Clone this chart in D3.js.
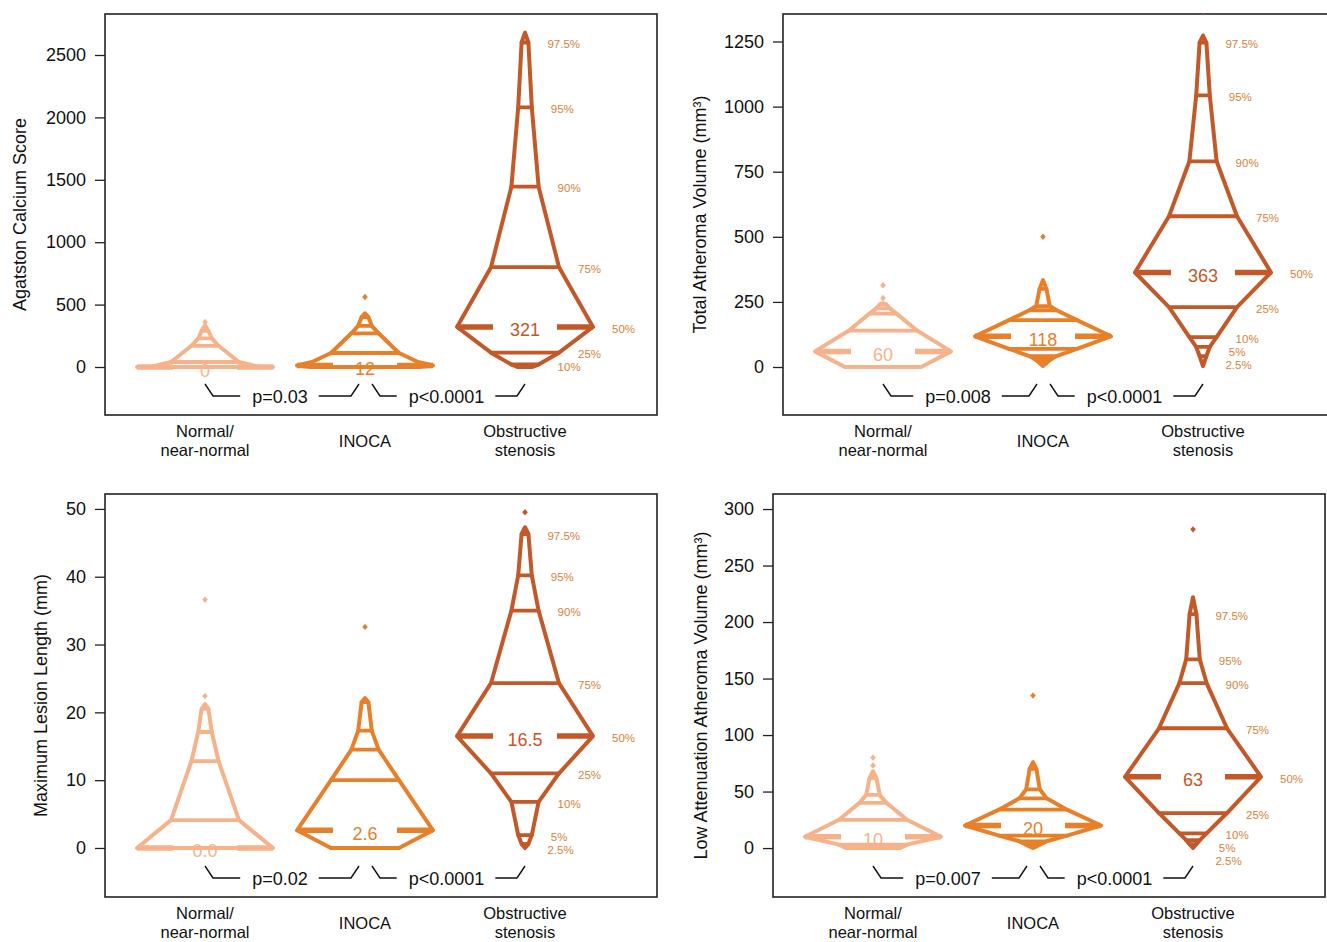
<!DOCTYPE html>
<html><head><meta charset="utf-8">
<script src="https://cdn.jsdelivr.net/npm/d3@7"></script>
<style>
body{margin:0;background:#fff}
svg{display:block}
text{font-family:"Liberation Sans",Arial,Helvetica,sans-serif}
</style>
</head><body>
<svg id="chart" width="1327" height="942"></svg>
<script>
// ---------------- DATA ----------------
const categories = [["Normal/","near-normal"],["INOCA"],["Obstructive","stenosis"]];
const pctLevels = [0, 2.5, 5, 10, 25, 50, 75, 90, 95, 97.5, 100];
const pctLabelLevels = [2.5, 5, 10, 25, 50, 75, 90, 95, 97.5];

// Panel A: Agatston Calcium Score (values at pctLevels)
const agatstonTicks = [0, 500, 1000, 1500, 2000, 2500];
const agatstonNormal = [0, 0, 0, 0, 0, 0, 40, 170, 230, 290, 335];
const agatstonNormalExtra = [[0, 60]];
const agatstonInoca = [0, 0, 0, 0, 0, 12, 112, 270, 330, 400, 430];
const agatstonInocaExtra = [[0, 40], [40, 61]];
const agatstonObstr = [0, 0, 0, 20, 115, 321, 800, 1445, 2080, 2600, 2680];
const agatstonOutliers = [[360], [561], []];
const agatstonMedianText = ["0", "12", "321"];
const agatstonP = ["p=0.03", "p<0.0001"];
const agatstonLabeled = [10, 25, 50, 75, 90, 95, 97.5];

// Panel B: Total Atheroma Volume
const tavTicks = [0, 250, 500, 750, 1000, 1250];
const tavNormal = [0, 0, 0, 0, 0, 60, 140, 205, 225, 240, 245];
const tavNormalExtra = [[0, 28]];
const tavInoca = [4, 15, 27, 42, 70, 118, 180, 218, 234, 300, 334];
const tavObstr = [3, 42, 77, 115, 230, 363, 579, 790, 1043, 1246, 1273];
const tavOutliers = [[265, 314], [500], [1362]];
const tavMedianText = ["60", "118", "363"];
const tavP = ["p=0.008", "p<0.0001"];

// Panel C: Maximum Lesion Length
const mllTicks = [0, 10, 20, 30, 40, 50];
const mllNormal = [0, 0, 0, 0, 0, 0, 4.1, 12.8, 17.1, 20.5, 21.2];
const mllInoca = [0, 0, 0, 0, 0, 2.6, 10, 14.5, 17.3, 21.5, 22.1];
const mllObstr = [0, 0.6, 1.9, 6.8, 11, 16.5, 24.3, 35, 40.2, 46.3, 47.3];
const mllOutliers = [[22.4, 36.6], [32.6], [49.5]];
const mllMedianText = ["0.0", "2.6", "16.5"];
const mllP = ["p=0.02", "p<0.0001"];

// Panel D: Low Attenuation Atheroma Volume
const laavTicks = [0, 50, 100, 150, 200, 250, 300];
const laavNormal = [0, 0, 0, 0, 3, 10, 25, 40, 47, 62, 68];
const laavNormalExtra = [[0, 20]];
const laavInoca = [0, 1.5, 3, 6, 11, 20, 34, 44, 52, 70, 76];
const laavObstr = [0, 3.5, 7, 13, 31, 63, 106, 146, 167, 207, 222];
const laavOutliers = [[73, 80], [135], [282]];
const laavMedianText = ["10", "20", "63"];
const laavP = ["p=0.007", "p<0.0001"];

// ---------------- STYLE / LAYOUT ----------------
const groupColors = ["#F6B28A", "#E8802A", "#C35828"];
const pctLabelColor = "#D8823A";
const W = 68; // half-width at the median, px

const panels = [
  {title: "Agatston Calcium Score", ticks: agatstonTicks, domain: [-384.6, 2828.5],
   groups: [[agatstonNormal, agatstonNormalExtra], [agatstonInoca, agatstonInocaExtra], [agatstonObstr, []]],
   outliers: agatstonOutliers, med: agatstonMedianText, p: agatstonP, labeled: agatstonLabeled,
   left: 105, top: 14, bottom: 415, right: 657, titleX: 20},
  {title: "Total Atheroma Volume (mm³)", ticks: tavTicks, domain: [-184.3, 1355.6],
   groups: [[tavNormal, tavNormalExtra], [tavInoca, []], [tavObstr, []]],
   outliers: tavOutliers, med: tavMedianText, p: tavP, labeled: pctLabelLevels,
   left: 783, top: 14, bottom: 415, right: 1335, titleX: 700},
  {title: "Maximum Lesion Length (mm)", ticks: mllTicks, domain: [-7.23, 52.2],
   groups: [[mllNormal, []], [mllInoca, []], [mllObstr, []]],
   outliers: mllOutliers, med: mllMedianText, p: mllP, labeled: pctLabelLevels,
   left: 105, top: 494, bottom: 897, right: 657, titleX: 41},
  {title: "Low Attenuation Atheroma Volume (mm³)", ticks: laavTicks, domain: [-43.3, 313.3],
   groups: [[laavNormal, laavNormalExtra], [laavInoca, []], [laavObstr, []]],
   outliers: laavOutliers, med: laavMedianText, p: laavP, labeled: pctLabelLevels,
   left: 773, top: 494, bottom: 897, right: 1325, titleX: 701}
];

const svg = d3.select("#chart");
const hw = p => W * Math.min(p, 100 - p) / 50;

panels.forEach((P, pi) => {
  const x = d3.scaleLinear().domain([0.375, 3.825]).range([P.left, P.left + 552]);
  const y = d3.scaleLinear().domain(P.domain).range([P.bottom, P.top]);
  const g = svg.append("g");

  const clipId = "clip" + pi;
  g.append("clipPath").attr("id", clipId).append("rect")
    .attr("x", P.left).attr("y", P.top)
    .attr("width", Math.min(P.right, 1327) - P.left).attr("height", P.bottom - P.top);

  // axis
  const axis = d3.axisLeft(y).tickValues(P.ticks).tickFormat(d3.format("d")).tickSize(10).tickPadding(9);
  const ax = g.append("g").attr("transform", `translate(${P.left},0)`).call(axis);
  ax.select(".domain").remove();
  ax.selectAll(".tick line").attr("stroke", "#222").attr("stroke-width", 1.3);
  ax.selectAll(".tick text").attr("font-size", 18).attr("fill", "#111")
    .attr("font-family", "Liberation Sans, Arial, sans-serif");

  // box
  g.append("rect").attr("x", P.left).attr("y", P.top)
    .attr("width", P.right - P.left).attr("height", P.bottom - P.top)
    .attr("fill", "none").attr("stroke", "#222").attr("stroke-width", 1.6);

  // axis title
  g.append("text")
    .attr("transform", `translate(${P.titleX},${(P.top + P.bottom) / 2}) rotate(-90)`)
    .attr("text-anchor", "middle").attr("dominant-baseline", "central")
    .attr("font-size", 18).attr("fill", "#111").text(P.title);

  // category labels
  categories.forEach((lines, ci) => {
    const t = g.append("text").attr("text-anchor", "middle").attr("font-size", 16.5).attr("fill", "#111");
    const base = lines.length === 2 ? P.bottom + 16 : P.bottom + 25.5;
    lines.forEach((ln, li) => {
      t.append("tspan").attr("x", x(ci + 1)).attr("y", base + li * 18.5 + 6).text(ln);
    });
  });

  const plot = g.append("g").attr("clip-path", `url(#${clipId})`);
  const line = d3.line().curve(d3.curveLinearClosed);

  P.groups.forEach(([q, extra], gi) => {
    const cx = x(gi + 1);
    const col = groupColors[gi];
    let knots = pctLevels.map((p, i) => ({p: p, v: q[i]}));
    extra.forEach(([v, p]) => knots.push({p: p, v: v}));
    knots.sort((a, b) => a.p - b.p);
    const right = knots.map(k => [cx + hw(k.p), y(k.v)]);
    const left = knots.slice().reverse().map(k => [cx - hw(k.p), y(k.v)]);
    plot.append("path").attr("d", line(right.concat(left)))
      .attr("fill", "none").attr("stroke", col).attr("stroke-width", 4)
      .attr("stroke-linejoin", "round");

    // percentile lines
    pctLevels.forEach((p, i) => {
      if (p === 0 || p === 100) return;
      const yy = y(q[i]);
      const h = hw(p);
      if (p === 50) {
        plot.append("line").attr("x1", cx - h).attr("x2", cx - 32).attr("y1", yy).attr("y2", yy)
          .attr("stroke", col).attr("stroke-width", 5.5);
        plot.append("line").attr("x1", cx + 32).attr("x2", cx + h).attr("y1", yy).attr("y2", yy)
          .attr("stroke", col).attr("stroke-width", 5.5);
      } else {
        plot.append("line").attr("x1", cx - h).attr("x2", cx + h).attr("y1", yy).attr("y2", yy)
          .attr("stroke", col).attr("stroke-width", 3.8).attr("stroke-linecap", "round");
      }
    });

    // median label
    g.append("text").attr("x", cx).attr("y", y(q[5]) + 3 + 6.5)
      .attr("text-anchor", "middle").attr("font-size", 18).attr("fill", col).text(P.med[gi]);

    // outliers
    P.outliers[gi].forEach(v => {
      plot.append("path").attr("d", "M0,-3.2L2.8,0L0,3.2L-2.8,0Z")
        .attr("transform", `translate(${cx},${y(v)})`).attr("fill", col);
    });

    // percentile labels on last group (pushed down to keep them apart)
    if (gi === 2) {
      const labs = P.labeled.map(p => ({p: p, yy: y(q[pctLevels.indexOf(p)]) + 1.5}))
        .sort((a, b) => a.yy - b.yy);
      for (let k = 1; k < labs.length; k++) {
        if (labs[k].yy < labs[k - 1].yy + 13) labs[k].yy = labs[k - 1].yy + 13;
      }
      labs.forEach(l => {
        g.append("text").attr("x", cx + hw(l.p) + 19).attr("y", l.yy + 4.2)
          .attr("font-size", 11.5).attr("fill", pctLabelColor).text(l.p + "%");
      });
    }
  });

  // p-value brackets
  const by = P.bottom - 19, bt = P.bottom - 31;
  const pairs = [[x(1), x(2) - 6], [x(2) + 7, x(3)]];
  pairs.forEach(([x1, x2], k) => {
    const mid = (x1 + x2) / 2 - 2;
    const t = g.append("text").attr("x", mid).attr("y", by + 6.5).attr("text-anchor", "middle")
      .attr("font-size", 18).attr("fill", "#111").text(P.p[k]);
    const tw = t.node().getComputedTextLength();
    g.append("path")
      .attr("d", `M${x1},${bt}L${x1 + 8},${by}L${mid - tw / 2 - 12},${by}M${mid + tw / 2 + 11},${by}L${x2 - 8},${by}L${x2},${bt}`)
      .attr("fill", "none").attr("stroke", "#111").attr("stroke-width", 1.4);
  });
});
</script>
</body></html>
